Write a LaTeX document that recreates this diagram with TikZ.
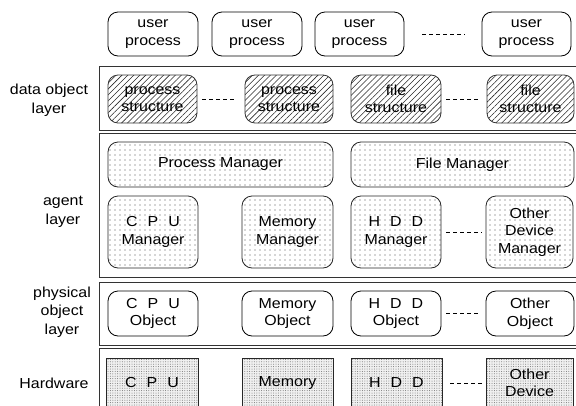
\documentclass[tikz,border=0pt]{standalone}
\usepackage{fontspec}
\setmainfont{Liberation Sans}[FakeStretch=1.1]
\usetikzlibrary{patterns.meta}

\newcommand{\spaced}[3]{#1\hspace{10pt}#2\hspace{10pt}#3}

\tikzset{
  txt/.style={font=\fontsize{14.5}{17.5}\selectfont, align=center, inner sep=0pt},
  layerbox/.style={draw=black!80, line width=0.9pt, inner sep=0pt},
  rbox/.style={txt, draw, line width=0.8pt, rounded corners=10pt},
  hatchbox/.style={rbox, draw=black!80,
    pattern={Lines[angle=45, distance=4.2pt, line width=0.55pt]}, pattern color=black!85},
  dotbox/.style={rbox, draw=black!85,
    pattern={Dots[distance=5pt, radius=0.55pt]}, pattern color=black!70},
  hwbox/.style={txt, draw=black!85, line width=0.8pt,
    preaction={fill=black!6},
    pattern={Dots[distance=2.4pt, radius=0.5pt]}, pattern color=black!55},
  dashline/.style={draw=black, line width=0.7pt, dash pattern=on 4pt off 3pt},
  sidelabel/.style={font=\fontsize{14.5}{18.5}\selectfont, align=center, inner sep=0pt}
}

\begin{document}
\begin{tikzpicture}[x=1pt, y=-1pt]
\useasboundingbox (0,0) rectangle (576,405);

% layer frames (right side runs past the page edge)
\node[layerbox, minimum width=481, minimum height=64]  (Ldata)  at (339.5,98)  {};
\node[layerbox, minimum width=481, minimum height=144] (Lagent) at (339.5,205) {};
\node[layerbox, minimum width=481, minimum height=63]  (Lphys)  at (339.5,313.5) {};
\node[layerbox, minimum width=481, minimum height=72]  (Lhw)    at (339.5,384) {};

% side labels
\node[sidelabel] (labData)  at (49,100)  {data object\\layer};
\node[sidelabel] (labAgent) at (63,212)  {agent\\layer};
\node[sidelabel] (labPhys)  at (62,312)  {physical\\object\\layer};
\node[sidelabel] (labHw)    at (54,383)  {Hardware};

% user processes
\node[rbox, minimum width=90, minimum height=44] (u1) at (153,34)   {user\\process};
\node[rbox, minimum width=90, minimum height=44] (u2) at (257,34)   {user\\process};
\node[rbox, minimum width=89, minimum height=44] (u3) at (359.5,34) {user\\process};
\node[rbox, minimum width=89, minimum height=44] (u4) at (526.5,34) {user\\process};
\draw[dashline, shorten <=18pt, shorten >=17pt] (u3) -- (u4);

% data object layer
\node[hatchbox, minimum width=89, minimum height=48] (d1) at (152.5,99) {process\\structure};
\node[hatchbox, minimum width=88, minimum height=48] (d2) at (289,99)   {process\\structure};
\node[hatchbox, minimum width=90, minimum height=48] (d3) at (396,99)   {file\\structure};
\node[hatchbox, minimum width=87, minimum height=48] (d4) at (530.5,99) {file\\structure};
\draw[dashline, shorten <=5pt, shorten >=10pt] (d1) -- (d2);
\draw[dashline, shorten <=5pt, shorten >=9pt]  (d3) -- (d4);

% agent layer
\node[dotbox, minimum width=225, minimum height=45] (pm) at (220.5,164.5) {Process Manager};
\node[dotbox, minimum width=223, minimum height=45] (fm) at (462.5,164.5) {File Manager};
\node[dotbox, minimum width=90, minimum height=72] (am1) at (153,232)   {\spaced CPU\\Manager};
\node[dotbox, minimum width=91, minimum height=72] (am2) at (287.5,232) {Memory\\Manager};
\node[dotbox, minimum width=90, minimum height=72] (am3) at (396,232)   {\spaced HDD\\Manager};
\node[dotbox, minimum width=87, minimum height=72] (am4) at (529.5,232) {Other\\Device\\Manager};
\draw[dashline, shorten <=5pt, shorten >=4pt] (am3) -- (am4);

% physical object layer
\node[rbox, minimum width=90, minimum height=45] (p1) at (153,313.5)   {\spaced CPU\\Object};
\node[rbox, minimum width=91, minimum height=45] (p2) at (287.5,313.5) {Memory\\Object};
\node[rbox, minimum width=90, minimum height=45] (p3) at (396,313.5)   {\spaced HDD\\Object};
\node[rbox, minimum width=88, minimum height=45] (p4) at (530,313.5)   {Other\\Object};
\draw[dashline, shorten <=5pt, shorten >=8pt] (p3) -- (p4);

% hardware (boxes run past the bottom edge)
\node[hwbox, minimum width=92, minimum height=50] (h1) at (152,383)   {\spaced CPU};
\node[hwbox, minimum width=91, minimum height=50] (h2) at (287.5,383) {Memory};
\node[hwbox, minimum width=91, minimum height=50] (h3) at (396.5,383) {\spaced HDD};
\node[hwbox, minimum width=87, minimum height=50] (h4) at (529.5,383) {Other\\Device};
\draw[dashline, shorten <=8pt, shorten >=3pt] (h3) -- (h4);
\end{tikzpicture}
\end{document}
